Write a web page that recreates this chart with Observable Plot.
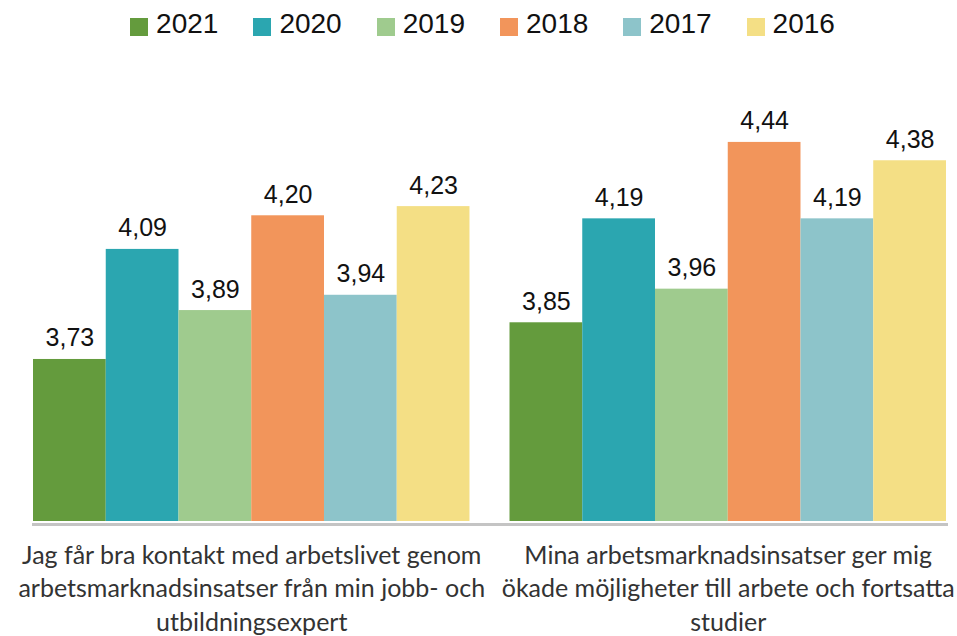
<!DOCTYPE html>
<html>
<head>
<meta charset="utf-8">
<script src="https://cdn.jsdelivr.net/npm/d3@7"></script>
<script src="https://cdn.jsdelivr.net/npm/@observablehq/plot@0.6"></script>
<style>
  html, body { margin: 0; padding: 0; background: #fff; }
  #legend { display: flex; justify-content: center; align-items: center; height: 48px; padding-left: 8px;
    font-family: "Liberation Sans", Arial, sans-serif; font-size: 28px; color: #111; }
  .item { display: flex; align-items: center; margin-right: 35px; }
  .item:last-child { margin-right: 0; }
  .sw { width: 18px; height: 18px; margin-right: 8px; margin-top: 5px; }
  svg { display: block; }
</style>
</head>
<body>
<div id="legend"></div>
<div id="chart"></div>
<script>
const years = ["2021", "2020", "2019", "2018", "2017", "2016"];
const colors = ["#649b3d", "#2ba6b0", "#9fcb8e", "#f2955b", "#8dc4ca", "#f4df85"];
const questions = ["Q1", "Q2"];
const questionLines = [
  ["Jag får bra kontakt med arbetslivet genom", "arbetsmarknadsinsatser från min jobb- och", "utbildningsexpert"],
  ["Mina arbetsmarknadsinsatser ger mig", "ökade möjligheter till arbete och fortsatta", "studier"]
];
const valuesQ1 = [3.73, 4.09, 3.89, 4.20, 3.94, 4.23];
const valuesQ2 = [3.85, 4.19, 3.96, 4.44, 4.19, 4.38];
const yMin = 3.2, yMax = 4.6;

const data = [];
[valuesQ1, valuesQ2].forEach((vals, qi) => vals.forEach((v, i) => data.push({q: questions[qi], year: years[i], value: v})));
const fmt = v => d3.format(".2f")(v).replace(".", ",");

// legend
const legend = document.getElementById("legend");
years.forEach((y, i) => {
  const it = document.createElement("div"); it.className = "item";
  const sw = document.createElement("div"); sw.className = "sw"; sw.style.background = colors[i];
  const t = document.createElement("span"); t.textContent = y;
  it.appendChild(sw); it.appendChild(t); legend.appendChild(it);
});

const chart = Plot.plot({
  width: 957, height: 588,
  marginLeft: 12, marginRight: 0, marginTop: 45, marginBottom: 115,
  fx: {domain: questions, paddingInner: 0.084, paddingOuter: 0.0336, align: 0.656, round: false, axis: null},
  x: {domain: years, padding: 0, round: false, axis: null},
  y: {domain: [yMin, yMax], axis: null},
  color: {domain: years, range: colors},
  style: {fontFamily: "Liberation Sans, Arial, sans-serif"},
  marks: [
    Plot.barY(data, {fx: "q", x: "year", y1: yMin, y2: "value", fill: "year", inset: 0}),
    Plot.text(data, {fx: "q", x: "year", y: "value", text: d => fmt(d.value), lineAnchor: "bottom", dy: -13,
      fontSize: 25, fill: "#111", fontFamily: "Liberation Sans, Arial, sans-serif"}),
    Plot.frame({anchor: "bottom", facet: "super", stroke: "#c4c4c4", strokeWidth: 3, dy: 3}),
    Plot.text(questions, {fx: d => d, text: (d, i) => questionLines[i].join("\n"), frameAnchor: "bottom",
      lineAnchor: "middle", dy: 65, lineHeight: 1.34, fontSize: 25, fill: "#333", fontFamily: "Lato, sans-serif"})
  ]
});
document.getElementById("chart").appendChild(chart);
</script>
</body>
</html>
